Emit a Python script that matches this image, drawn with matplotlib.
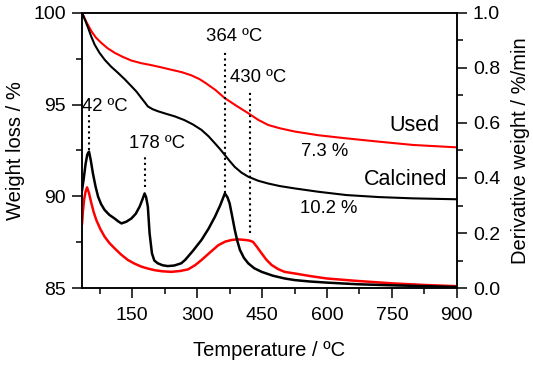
import numpy as np
import matplotlib
matplotlib.use("Agg")
import matplotlib.pyplot as plt

plt.rcParams['font.family'] = ['Liberation Sans', 'DejaVu Sans']

# weight loss (TGA) curves, left axis
tga_used_T = [34, 44, 55.5, 66, 78.5, 93, 109.5, 128, 148, 170, 194, 217, 240, 264, 286, 306, 321, 342, 364, 391,
              418, 441, 464, 491, 526, 580, 645, 720, 799, 900]
tga_used_W = [100, 99.5, 99.0, 98.65, 98.36, 98.07, 97.82, 97.6, 97.4, 97.26, 97.15, 97.03, 96.9, 96.77, 96.6, 96.38,
              96.15, 95.8, 95.35, 94.93, 94.53, 94.17, 93.89, 93.71, 93.53, 93.33, 93.16, 92.98, 92.8, 92.67]

tga_calc_T = [34, 41, 48, 55, 63, 74, 86, 101, 117, 133, 148, 160, 171, 179, 186, 197, 209, 228, 248, 270, 290, 310,
              326, 341, 353, 364, 376, 387, 402, 418, 441, 464, 491, 526, 580, 645, 720, 799, 900]
tga_calc_W = [100, 99.6, 99.18, 98.72, 98.27, 97.83, 97.45, 97.07, 96.73, 96.37, 96.0, 95.7, 95.36, 95.12, 94.9, 94.75,
              94.64, 94.5, 94.36, 94.16, 93.92, 93.62, 93.28, 92.89, 92.57, 92.25, 91.9, 91.6, 91.3, 91.07, 90.85,
              90.7, 90.56, 90.43, 90.25, 90.07, 89.96, 89.89, 89.84]

# derivative weight (DTG) curves, right axis
dtg_calc_T = [34, 38, 42, 46, 50, 54, 59, 65, 71, 78, 86, 97, 109, 117, 125, 136, 148, 158, 167, 173, 178.5, 182, 186,
              190, 195.5, 201, 209, 220, 232, 247, 263, 272, 290, 310, 326, 341, 353, 364, 370, 375, 381, 387, 393, 399,
              408, 418, 432, 449, 475, 502, 526, 560, 599, 670, 753, 830, 900]
dtg_calc_D = [0.356, 0.4, 0.45, 0.485, 0.496, 0.465, 0.417, 0.37, 0.332, 0.305, 0.284, 0.266, 0.253, 0.243, 0.235, 0.241,
              0.253, 0.27, 0.296, 0.32, 0.344, 0.33, 0.296, 0.199, 0.126, 0.1, 0.09, 0.083, 0.08, 0.082, 0.09, 0.102,
              0.135, 0.175, 0.215, 0.259, 0.3, 0.344, 0.33, 0.308, 0.26, 0.211, 0.17, 0.138, 0.11, 0.09, 0.072, 0.059,
              0.045, 0.035, 0.029, 0.024, 0.02, 0.014, 0.01, 0.007, 0.004]

dtg_used_T = [34, 36, 38.6, 42, 45.5, 50, 55.5, 61, 67, 76, 86, 97, 109.5, 124, 140, 155, 171, 186, 202, 220, 240, 260,
              279, 295, 310, 330, 349, 365, 380, 395, 410, 420, 429, 438, 449, 460, 472, 487, 502, 526, 560, 599, 670,
              753, 830, 900]
dtg_used_D = [0.235, 0.28, 0.32, 0.35, 0.366, 0.345, 0.308, 0.275, 0.247, 0.215, 0.187, 0.164, 0.144, 0.122, 0.102, 0.089,
              0.078, 0.071, 0.065, 0.061, 0.059, 0.062, 0.068, 0.083, 0.102, 0.13, 0.156, 0.169, 0.175, 0.177, 0.175,
              0.173, 0.168, 0.15, 0.126, 0.103, 0.084, 0.069, 0.059, 0.053, 0.044, 0.035, 0.026, 0.017, 0.011, 0.007]

# peak markers: x position, line bottom/top on DTG axis, label
peak_T = [50, 178.6, 364, 421.7]
peak_lo = [0.502, 0.368, 0.344, 0.2]
peak_hi = [0.629, 0.484, 0.865, 0.713]
peak_labels = ['42 ºC', '178 ºC', '364 ºC', '430 ºC']
label_pos = [(87, 0.658), (207, 0.527), (385, 0.913), (441, 0.764)]

fig = plt.figure(figsize=(5.33, 3.67), dpi=100)
ax = fig.add_axes([0.154, 0.215, 0.703, 0.75])
ax2 = ax.twinx()

ax.plot(tga_used_T, tga_used_W, color='#ff0000', lw=1.5)
ax.plot(tga_calc_T, tga_calc_W, color='black', lw=1.5)
ax2.plot(dtg_used_T, dtg_used_D, color='#ff0000', lw=1.8)
ax2.plot(dtg_calc_T, dtg_calc_D, color='black', lw=1.8)

for t, lo, hi in zip(peak_T, peak_lo, peak_hi):
    ax2.plot([t, t], [lo, hi], color='black', ls=':', lw=1.5)
for lab, (tx, ty) in zip(peak_labels, label_pos):
    ax2.text(tx, ty, lab, ha='center', va='center', fontsize=13.3)

ax2.text(803, 0.589, 'Used', ha='center', va='center', fontsize=15.5)
ax2.text(595, 0.496, '7.3 %', ha='center', va='center', fontsize=13.3)
ax2.text(781, 0.393, 'Calcined', ha='center', va='center', fontsize=15.5)
ax2.text(604, 0.29, '10.2 %', ha='center', va='center', fontsize=13.3)

ax.set_xlim(34, 900)
ax.set_ylim(85, 100)
ax2.set_ylim(0, 1.0)
ax.set_xticks([150, 300, 450, 600, 750, 900])
ax.set_xticks([75, 225, 375, 525, 675, 825], minor=True)
ax.set_yticks([85, 90, 95, 100])
ax.set_yticks([87.5, 92.5, 97.5], minor=True)
ax2.set_yticks([0.0, 0.2, 0.4, 0.6, 0.8, 1.0])
ax2.set_yticks([0.1, 0.3, 0.5, 0.7, 0.9], minor=True)
ax2.set_yticklabels(['0.0', '0.2', '0.4', '0.6', '0.8', '1.0'])

for a in (ax, ax2):
    a.tick_params(which='major', length=7.5, width=1.1, labelsize=14, direction='out')
    a.tick_params(which='minor', length=4.5, width=1.1, direction='out')
    for s in a.spines.values():
        s.set_linewidth(1.1)
ax.tick_params(axis='x', pad=6)
ax.tick_params(axis='y', pad=4)
ax2.tick_params(axis='y', pad=4)

ax.set_xlabel('Temperature / ºC', fontsize=14.5, labelpad=12)
ax.set_ylabel('Weight loss / %', fontsize=14.5, labelpad=6)
ax2.set_ylabel('Derivative weight / %/min', fontsize=14.5, labelpad=8)

fig.savefig('out.png', dpi=100)
